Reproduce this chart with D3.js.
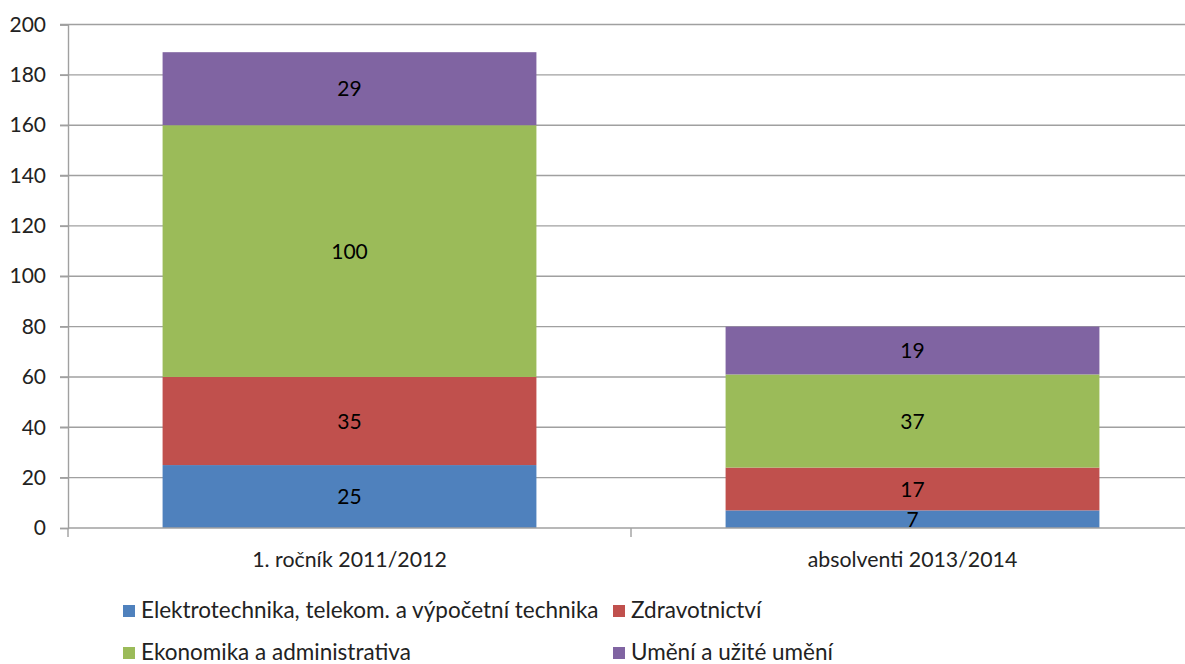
<!DOCTYPE html>
<html>
<head>
<meta charset="utf-8">
<script src="https://cdn.jsdelivr.net/npm/d3@7"></script>
<style>
  body { margin: 0; background: #fff; }
  svg { display: block; font-family: Lato, "Open Sans", sans-serif; }
</style>
</head>
<body>
<script>
const categories = ["1. ročník 2011/2012", "absolventi 2013/2014"];
const seriesNames = [
  "Elektrotechnika, telekom. a výpočetní technika",
  "Zdravotnictví",
  "Ekonomika a administrativa",
  "Umění a užité umění"
];
const elektro = [25, 7];
const zdravo = [35, 17];
const ekonomika = [100, 37];
const umeni = [29, 19];
const yTicks = [0, 20, 40, 60, 80, 100, 120, 140, 160, 180, 200];
const colors = ["#4f81bd", "#c0504d", "#9bbb59", "#8064a2"];

const width = 1185, height = 664;
const plotLeft = 68, plotRight = 1194, plotTop = 24.5, plotBottom = 528;

const rows = categories.map((c, i) => ({
  cat: c,
  s0: elektro[i], s1: zdravo[i], s2: ekonomika[i], s3: umeni[i]
}));
const stack = d3.stack().keys(["s0", "s1", "s2", "s3"])(rows);

const svg = d3.select("body").append("svg")
  .attr("width", width)
  .attr("height", height);

const x = d3.scaleBand().domain(categories).range([plotLeft, plotRight]).paddingInner(0).paddingOuter(0);
const y = d3.scaleLinear().domain([0, 200]).range([plotBottom, plotTop]);
const barW = x.bandwidth() * 0.664;

// gridlines
svg.append("g")
  .selectAll("line")
  .data(yTicks.filter(d => d > 0))
  .enter()
  .append("line")
    .attr("x1", plotLeft - 8)
    .attr("x2", plotRight)
    .attr("y1", d => y(d))
    .attr("y2", d => y(d))
    .attr("stroke", "#a0a0a0")
    .attr("stroke-width", 1.4);

// bars
svg.append("g")
  .selectAll("g")
  .data(stack)
  .enter()
  .append("g")
    .attr("fill", (d, i) => colors[i])
  .selectAll("rect")
  .data(d => d)
  .enter()
  .append("rect")
    .attr("x", d => x(d.data.cat) + (x.bandwidth() - barW) / 2)
    .attr("width", barW)
    .attr("y", d => y(d[1]))
    .attr("height", d => y(d[0]) - y(d[1]));

// value labels
stack.forEach(layer => {
  svg.append("g")
    .selectAll("text")
    .data(layer)
    .enter()
    .append("text")
      .attr("x", d => x(d.data.cat) + x.bandwidth() / 2)
      .attr("y", d => (y(d[0]) + y(d[1])) / 2)
      .attr("dy", "0.36em")
      .attr("text-anchor", "middle")
      .attr("font-size", 21)
      .attr("fill", "#000")
      .text(d => d[1] - d[0]);
});

// y axis
const yAxis = d3.axisLeft(y).tickValues(yTicks).tickSize(8).tickPadding(14);
svg.append("g")
  .attr("transform", `translate(${plotLeft},0)`)
  .call(yAxis)
  .call(g => g.selectAll("line, path").attr("stroke", "#a0a0a0").attr("stroke-width", 1.4))
  .call(g => g.selectAll("text").attr("font-size", 21).attr("fill", "#222").attr("font-family", "Lato, 'Open Sans', sans-serif"));

// x axis
const xAxis = d3.axisBottom(x).tickSize(0).tickPadding(24);
svg.append("g")
  .attr("transform", `translate(0,${plotBottom})`)
  .call(xAxis)
  .call(g => g.select(".domain").attr("d", `M${plotLeft},0H${plotRight}`).attr("stroke", "#a0a0a0").attr("stroke-width", 1.4))
  .call(g => g.selectAll("text").attr("font-size", 21.3).attr("fill", "#222").attr("font-family", "Lato, 'Open Sans', sans-serif"));

// category boundary ticks
svg.append("g")
  .selectAll("line")
  .data(categories)
  .enter()
  .append("line")
    .attr("x1", d => x(d))
    .attr("x2", d => x(d))
    .attr("y1", plotBottom)
    .attr("y2", plotBottom + 9)
    .attr("stroke", "#a0a0a0")
    .attr("stroke-width", 1.4);

// legend
const legendPos = [[123, 610], [613, 610], [123, 652], [613, 652]];
const legend = svg.append("g")
  .selectAll("g")
  .data(seriesNames)
  .enter()
  .append("g")
    .attr("transform", (d, i) => `translate(${legendPos[i][0]},${legendPos[i][1]})`);
legend.append("rect")
  .attr("x", 0).attr("y", -5)
  .attr("width", 12).attr("height", 12)
  .attr("fill", (d, i) => colors[i]);
legend.append("text")
  .attr("x", 18)
  .attr("dy", "0.36em")
  .attr("font-size", 22.5)
  .attr("fill", "#222")
  .text(d => d);
</script>
</body>
</html>
